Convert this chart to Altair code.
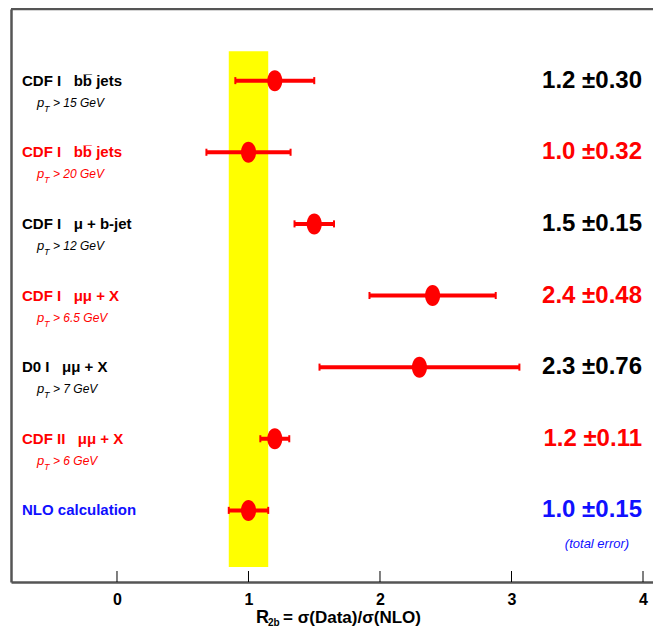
import altair as alt
import pandas as pd

# ---- data ----
rows = [1, 2, 3, 4, 5, 6, 7]
NB = "\u00a0"
names = [f"CDF I{NB}{NB}{NB}bb\u0305 jets", f"CDF I{NB}{NB}{NB}bb\u0305 jets",
         f"CDF I{NB}{NB}{NB}\u03bc + b-jet", f"CDF I{NB}{NB}{NB}\u03bc\u03bc + X",
         f"D0 I{NB}{NB}{NB}\u03bc\u03bc + X", f"CDF II{NB}{NB}{NB}\u03bc\u03bc + X",
         "NLO calculation"]
pt_cuts = ["> 15 GeV", "> 20 GeV", "> 12 GeV", "> 6.5 GeV", "> 7 GeV", "> 6 GeV", ""]
ratios = [1.2, 1.0, 1.5, 2.4, 2.3, 1.2, 1.0]
errors = [0.30, 0.32, 0.15, 0.48, 0.76, 0.11, 0.15]
colors = ["#000000", "#ff0000", "#000000", "#ff0000", "#000000", "#ff0000", "#1010ff"]
x_ticks = [0, 1, 2, 3, 4]
band_lo, band_hi = 0.85, 1.15      # NLO +- total error
band_top, band_bottom = 0.59, 7.79

W, H = 642, 573
FONT = "Liberation Sans, Arial, Helvetica"
AX = "#555555"

df = pd.DataFrame({
    "row": rows, "name": names, "pt": pt_cuts, "r": ratios, "e": errors, "col": colors,
})
df["lo"] = df["r"] - df["e"]
df["hi"] = df["r"] + df["e"]
df["val"] = [f"{r:.1f} \u00b1{e:.2f}" for r, e in zip(ratios, errors)]
df_pt = df[df["pt"] != ""]
df_nlo = df[df["row"] == 7]

xs = alt.Scale(domain=[-0.806, 4.076], nice=False, zero=False)
ys = alt.Scale(domain=[0, 8], reverse=True, nice=False, zero=False)
xaxis = alt.Axis(values=x_ticks, format="d", ticks=False, grid=False, domainColor=AX,
                 domainWidth=2.5, labelFont=FONT, labelFontSize=16, labelFontWeight="bold",
                 labelColor="black", labelPadding=9, labelFlush=False, title=None)
yaxis = alt.Axis(labels=False, ticks=False, grid=False, domainColor=AX, domainWidth=2.5,
                 title=None)


def X(f):
    return alt.X(f, type="quantitative", scale=xs, axis=xaxis)


def Y(f):
    return alt.Y(f, type="quantitative", scale=ys, axis=yaxis)


band = alt.Chart(pd.DataFrame({"a": [band_lo], "b": [band_hi], "t": [band_top], "u": [band_bottom]})).mark_rect(
    color="#ffff00").encode(x=X("a"), x2="b", y=Y("t"), y2="u")

top_line = alt.Chart(pd.DataFrame({"a": [0]})).mark_rule(color=AX, strokeWidth=2.5).encode(
    x=alt.value(0), x2=alt.value(W), y=alt.value(0))

ticks = alt.Chart(pd.DataFrame({"t": x_ticks})).mark_rule(color="black", strokeWidth=1).encode(
    x=X("t"), y=alt.value(H - 11), y2=alt.value(H))

bars = alt.Chart(df).mark_rule(color="#ff0000", strokeWidth=4).encode(
    x=X("lo"), x2="hi", y=Y("row"))

cap_shape = "M0,-1L0,1"
caps_lo = alt.Chart(df).mark_point(shape=cap_shape, filled=False, strokeWidth=2, size=50,
                                   color="#ff0000", opacity=1).encode(x=X("lo"), y=Y("row"))
caps_hi = alt.Chart(df).mark_point(shape=cap_shape, filled=False, strokeWidth=2, size=50,
                                   color="#ff0000", opacity=1).encode(x=X("hi"), y=Y("row"))

ellipse = "M-0.72,0A0.72,1 0 1,1 0.72,0A0.72,1 0 1,1 -0.72,0Z"
points = alt.Chart(df).mark_point(shape=ellipse, filled=True, size=441, color="#ff0000",
                                  opacity=1).encode(x=X("r"), y=Y("row"))

name_txt = alt.Chart(df).mark_text(align="left", baseline="middle", font=FONT, fontSize=15,
                                   fontWeight="bold").encode(
    x=alt.value(11), y=Y("row"), text="name:N", color=alt.Color("col:N", scale=None))

p_txt = alt.Chart(df_pt).mark_text(align="left", baseline="middle", font=FONT, fontSize=13,
                                   fontStyle="italic", dy=22).encode(
    x=alt.value(26), y=Y("row"), text=alt.value("p"), color=alt.Color("col:N", scale=None))
t_txt = alt.Chart(df_pt).mark_text(align="left", baseline="middle", font=FONT, fontSize=9,
                                   fontStyle="italic", dy=28).encode(
    x=alt.value(33), y=Y("row"), text=alt.value("T"), color=alt.Color("col:N", scale=None))
cut_txt = alt.Chart(df_pt).mark_text(align="left", baseline="middle", font=FONT, fontSize=12,
                                     fontStyle="italic", dy=22).encode(
    x=alt.value(42), y=Y("row"), text="pt:N", color=alt.Color("col:N", scale=None))

val_txt = alt.Chart(df).mark_text(align="right", baseline="middle", font=FONT, fontSize=24,
                                  fontWeight="bold").encode(
    x=alt.value(631), y=Y("row"), text="val:N", color=alt.Color("col:N", scale=None))

tot_txt = alt.Chart(df_nlo).mark_text(align="center", baseline="middle", font=FONT, fontSize=13,
                                      fontStyle="italic", dy=34).encode(
    x=alt.value(586), y=Y("row"), text=alt.value("(total error)"),
    color=alt.Color("col:N", scale=None))

t_df = pd.DataFrame({"a": [0]})
title_r = alt.Chart(t_df).mark_text(align="left", baseline="alphabetic", font=FONT, fontSize=18,
                                    fontWeight="bold", color="black").encode(
    x=alt.value(245), y=alt.value(614), text=alt.value("R"))
title_sub = alt.Chart(t_df).mark_text(align="left", baseline="alphabetic", font=FONT, fontSize=10,
                                      fontWeight="bold", color="black").encode(
    x=alt.value(257), y=alt.value(617), text=alt.value("2b"))
title_rest = alt.Chart(t_df).mark_text(align="left", baseline="alphabetic", font=FONT, fontSize=17,
                                       fontWeight="bold", color="black").encode(
    x=alt.value(272), y=alt.value(614), text=alt.value("= \u03c3(Data)/\u03c3(NLO)"))

chart = alt.layer(
    band, top_line, ticks, bars, caps_lo, caps_hi, points,
    name_txt, p_txt, t_txt, cut_txt, val_txt, tot_txt, title_r, title_sub, title_rest,
).properties(
    width=W, height=H,
    autosize=alt.AutoSizeParams(type="none"),
    padding={"left": 3, "top": 1, "right": 0, "bottom": 47},
).configure_view(stroke=None).configure(background="white")

chart.save("out.html", embed_options={"renderer": "svg", "actions": False})
